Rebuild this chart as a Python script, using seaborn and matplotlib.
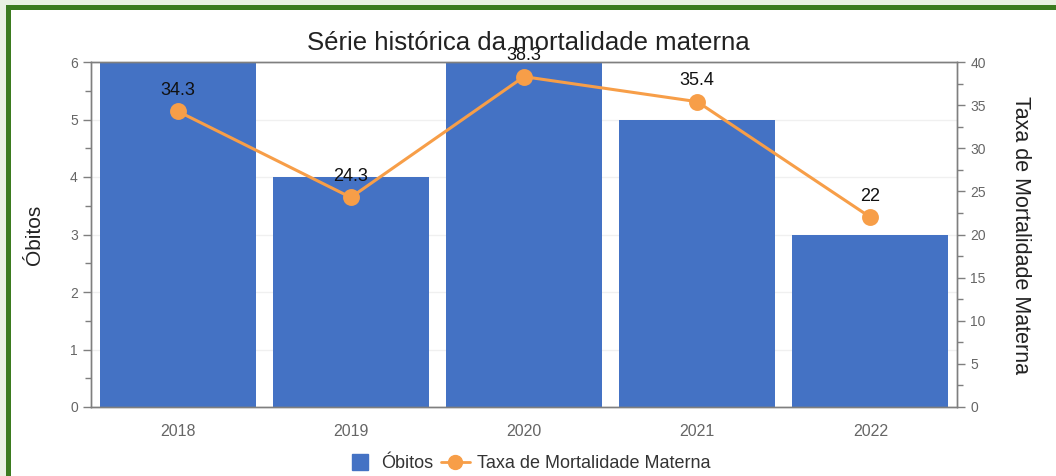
import matplotlib.pyplot as plt
import pandas as pd
import seaborn as sns
from matplotlib.lines import Line2D
from matplotlib.patches import Rectangle
from matplotlib.ticker import MultipleLocator

anos = ["2018", "2019", "2020", "2021", "2022"]
obitos = [6, 4, 6, 5, 3]
taxa = [34.3, 24.3, 38.3, 35.4, 22]

AZUL = "#4472c4"
LARANJA = "#f79e48"
CINZA = "#666666"
EIXO = "#7f7f7f"

sns.set_theme(style="white")
plt.rcParams["font.family"] = ["Liberation Sans", "DejaVu Sans"]

df = pd.DataFrame({"ano": anos, "obitos": obitos, "taxa": taxa})

fig = plt.figure(figsize=(10.56, 4.76), dpi=100)
fig.patch.set_facecolor("white")

# moldura verde (apenas topo e esquerda visiveis no recorte)
fig.patches.append(Rectangle((0, 0), 1, 1, transform=fig.transFigure,
                             facecolor="#e9f1e2", edgecolor="none", zorder=-3))
fig.patches.append(Rectangle((6 / 1056, -0.1), 2, (476 - 5) / 476 + 0.1, transform=fig.transFigure,
                             facecolor="#3b7b1f", edgecolor="none", zorder=-2))
fig.patches.append(Rectangle((11 / 1056, -0.1), 2, (476 - 10) / 476 + 0.1, transform=fig.transFigure,
                             facecolor="white", edgecolor="none", zorder=-1))

ax = fig.add_axes([91 / 1056, 1 - 407 / 476, (957 - 91) / 1056, (407 - 62) / 476])
ax.set_facecolor("white")

sns.barplot(data=df, x="ano", y="obitos", color=AZUL, saturation=1, width=0.9,
            linewidth=0, ax=ax, zorder=2)
ax.set_xlim(-0.5, 4.5)
ax.set_ylim(0, 6)
ax.yaxis.set_major_locator(MultipleLocator(1))
ax.yaxis.set_minor_locator(MultipleLocator(0.5))
ax.grid(axis="y", which="major", color="#f0f0f0", linewidth=1, zorder=0)
ax.set_axisbelow(True)
ax.set_xlabel("")
ax.set_ylabel("Óbitos", fontsize=15, color="#222222", va="center")
ax.yaxis.set_label_coords(-0.065, 0.5)

ax2 = ax.twinx()
sns.pointplot(data=df, x="ano", y="taxa", color=LARANJA, markers="o",
              markersize=10.5, linewidth=2.2, ax=ax2)
ax2.set_xlim(-0.5, 4.5)
ax2.set_ylim(0, 40)
ax2.yaxis.set_major_locator(MultipleLocator(5))
ax2.yaxis.set_minor_locator(MultipleLocator(2.5))
ax2.set_ylabel("Taxa de Mortalidade Materna", fontsize=15.5, color="#222222",
               rotation=270, va="center")
ax2.yaxis.set_label_coords(1.073, 0.5)
ax2.set_xlabel("")

for i, v in enumerate(taxa):
    ax2.annotate(f"{v:g}", (i, v), xytext=(0, 9), textcoords="offset points",
                 ha="center", va="bottom", fontsize=13, color="#111111")

for a in (ax, ax2):
    for s in a.spines.values():
        s.set_color(EIXO)
        s.set_linewidth(1)
    a.tick_params(axis="both", which="major", length=6, width=1, color=EIXO,
                  labelsize=10, labelcolor=CINZA, direction="out")
    a.tick_params(axis="y", which="minor", length=4, width=1, color=EIXO, direction="out")
ax.tick_params(axis="x", length=5, pad=7, labelsize=11.5)
ax.tick_params(axis="y", left=True, which="both")
ax2.tick_params(axis="y", right=True, which="both")

fig.text(0.5, 1 - 43 / 476, "Série histórica da mortalidade materna",
         ha="center", va="center", fontsize=18.5, color="#222222")

handles = [
    Line2D([0], [0], color=AZUL, marker="s", markersize=11, linewidth=0),
    Line2D([0], [0], color=LARANJA, marker="o", markersize=10, linewidth=2),
]
fig.legend(handles, ["Óbitos", "Taxa de Mortalidade Materna"], loc="center",
           bbox_to_anchor=(0.5, 1 - 464 / 476), ncol=2, frameon=False,
           fontsize=13, handlelength=1.6, handletextpad=0.4, columnspacing=0.4,
           labelcolor="#333333")

fig.savefig("out.png", dpi=100, facecolor=fig.get_facecolor())
